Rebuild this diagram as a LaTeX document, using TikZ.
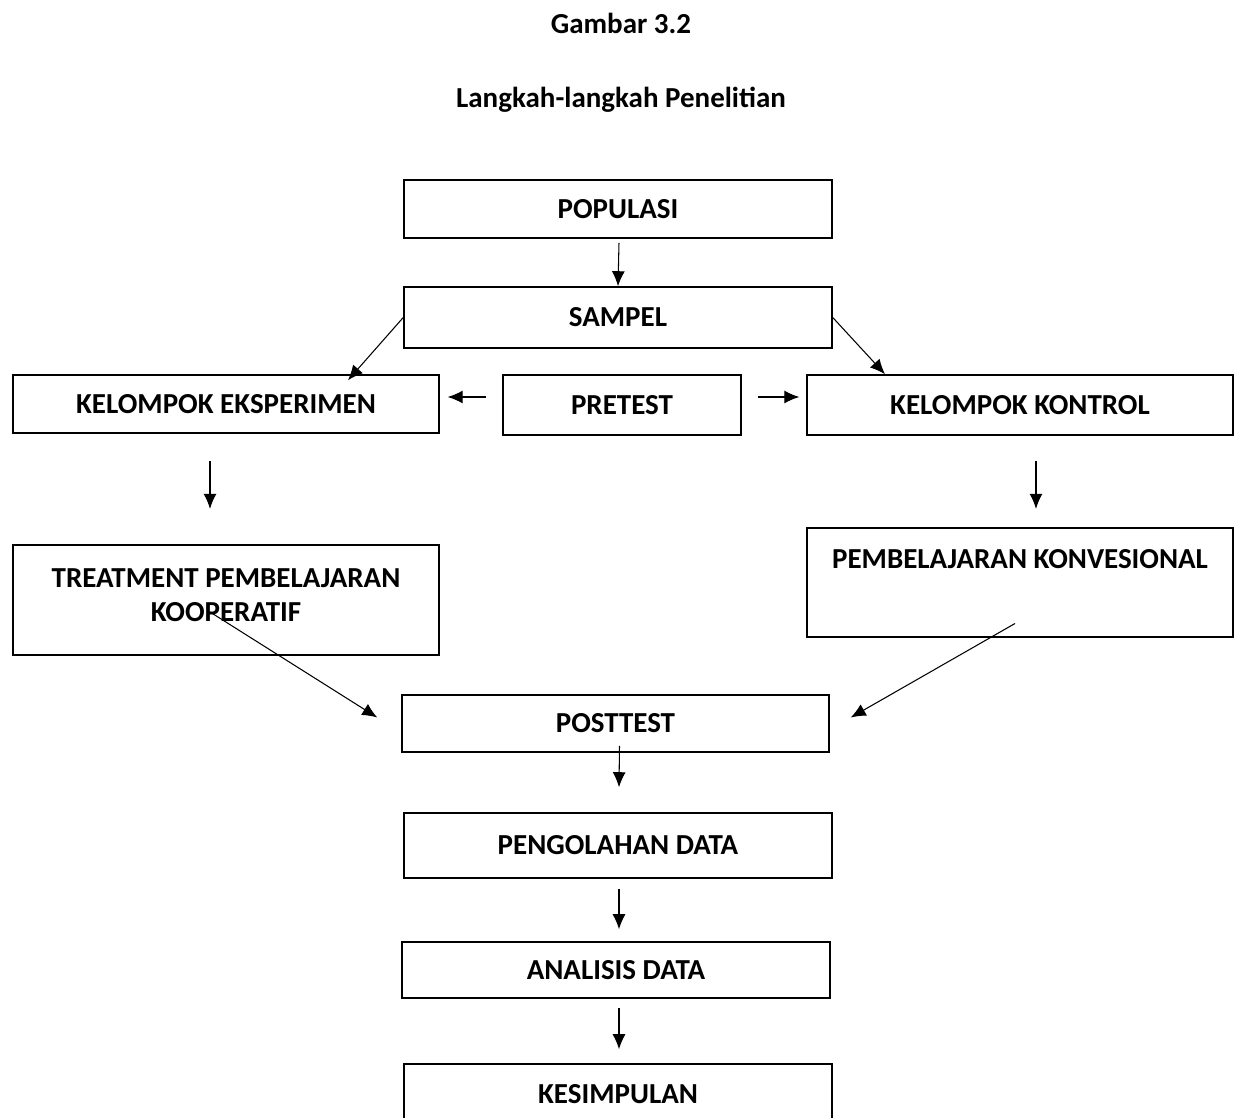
\documentclass[tikz,border=0pt]{standalone}
\usepackage{fontspec}
\setmainfont{Carlito}
\usepackage{tikz}
\usetikzlibrary{positioning, arrows.meta}

\tikzset{
  boks/.style={draw, line width=0.9pt, inner sep=0pt, align=center},
  panah/.style={-{Latex[length=3mm, width=2.6mm]}, line width=0.6pt},
}

\begin{document}
\begin{tikzpicture}[x=0.02cm, y=-0.02cm, font=\fontsize{16.5}{19.4}\selectfont\bfseries]
    \useasboundingbox (0,0) rectangle (1242,1118);
    \node (judul) at (621,23) {Gambar 3.2};
    \node (subjudul) at (621,100) {Langkah-langkah Penelitian};
    \node[boks, minimum width=8.56cm, minimum height=1.16cm] (pop) at (618,209) {POPULASI};
    \node[boks, minimum width=8.56cm, minimum height=1.22cm] (sampel) at (618,317.5) {SAMPEL};
    \node[boks, minimum width=8.52cm, minimum height=1.16cm] (eksp) at (226,404) {KELOMPOK EKSPERIMEN};
    \node[boks, minimum width=4.76cm, minimum height=1.2cm] (pretest) at (622,405) {PRETEST};
    \node[boks, minimum width=8.52cm, minimum height=1.2cm] (kontrol) at (1020,405) {KELOMPOK KONTROL};
    \node[boks, minimum width=8.52cm, minimum height=2.2cm, text depth=0.2cm] (treat) at (226,600) {TREATMENT PEMBELAJARAN\\KOOPERATIF};
    \node[boks, minimum width=8.52cm, minimum height=2.18cm] (konv) at (1020,582.5) {PEMBELAJARAN KONVESIONAL\\[0.26cm]\mbox{}};
    \node[boks, minimum width=8.54cm, minimum height=1.14cm] (post) at (615.5,723.5) {POSTTEST};
    \node[boks, minimum width=8.56cm, minimum height=1.3cm] (olah) at (618,845.5) {PENGOLAHAN DATA};
    \node[boks, minimum width=8.56cm, minimum height=1.12cm] (analisis) at (616,970) {ANALISIS DATA};
    \node[boks, minimum width=8.56cm, minimum height=1.2cm] (simpul) at (618,1094) {KESIMPULAN};
    % panah
    \draw[panah] ([shift={(1,4)}]pop.south) -- (sampel.north);
    \draw[panah] (sampel.west) -- ([shift={(122,6)}]eksp.north);
    \draw[panah] (sampel.east) -- ([shift={(-135,0)}]kontrol.north);
    \draw[panah] ([shift={(-16,-8)}]pretest.west) -- ([shift={(8,-7)}]eksp.east);
    \draw[panah] ([shift={(16,-8)}]pretest.east) -- ([shift={(-7,-8)}]kontrol.west);
    \draw[panah] ([shift={(-16,27)}]eksp.south) -- ([shift={(-16,75)}]eksp.south);
    \draw[panah] ([shift={(16,25)}]kontrol.south) -- ([shift={(16,73)}]kontrol.south);
    \draw[panah] ([shift={(-16,12)}]treat.center) -- ([shift={(-24,-6)}]post.west);
    \draw[panah] ([shift={(-5,41)}]konv.center) -- ([shift={(21,-6)}]post.east);
    \draw[panah] ([shift={(4,-7)}]post.south) -- ([shift={(1,-25)}]olah.north);
    \draw[panah] ([shift={(1,10)}]olah.south) -- ([shift={(3,-12)}]analisis.north);
    \draw[panah] ([shift={(3,9)}]analisis.south) -- ([shift={(1,-14)}]simpul.north);
\end{tikzpicture}
\end{document}
